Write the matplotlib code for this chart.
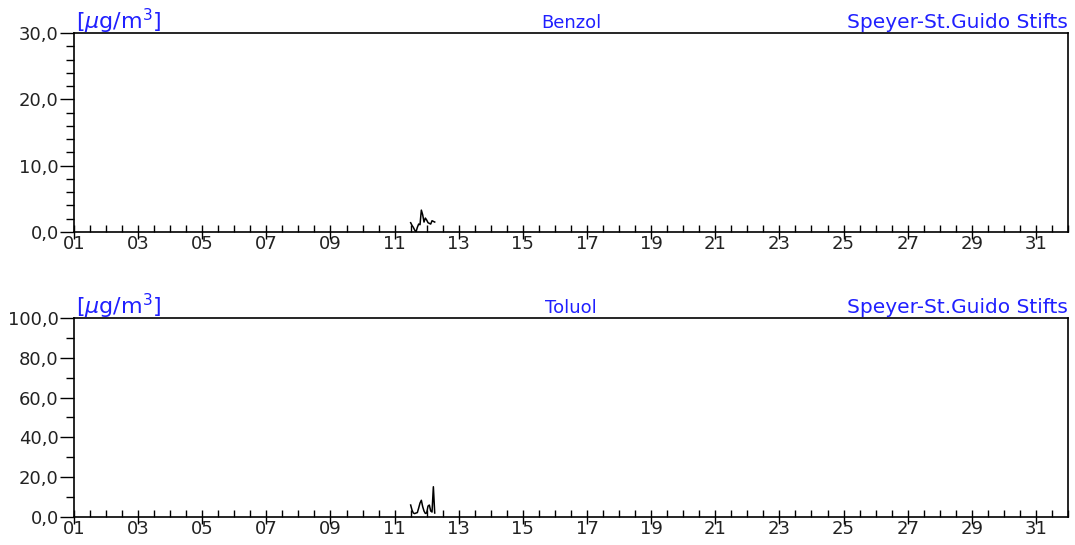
import numpy as np
import matplotlib.pyplot as plt
from matplotlib.ticker import MultipleLocator, FixedLocator, FuncFormatter

# hourly readings, starting on day 11 at 12:00
start_day = 11.5
benzol = [1.4, 1.0, 0.7, 0.3, 0.0, 0.7, 1.2, 1.1, 3.3, 2.6, 1.5, 2.1, 1.8, 1.4, 1.3, 1.2, 1.7, 1.6, 1.5]
toluol = [6.0, 3.5, 2.0, 1.7, 2.0, 2.2, 4.5, 7.0, 8.4, 5.2, 3.0, 1.8, 2.0, 5.5, 6.0, 3.0, 2.5, 15.2, 2.0]

station = "Speyer-St.Guido Stifts"
unit = "[$\\mu$g/m$^3$]"
panels = [("Benzol", benzol, 30, 10, 2), ("Toluol", toluol, 100, 20, 10)]
day_labels = list(range(1, 32, 2))

hours = start_day + np.arange(len(benzol)) / 24.0

fig = plt.figure(figsize=(10.75, 5.45), dpi=100)
blue = "#2020ff"
txt = "#222222"

def fmt(v, pos):
    return f"{v:.1f}".replace(".", ",")

for i, (name, vals, ymax, major, minor) in enumerate(panels):
    bottom = 0.5743 if i == 0 else 0.0514
    ax = fig.add_axes([0.0688, bottom, 0.9247, 0.3651])
    ax.plot(hours, vals, color="black", lw=1.1)
    ax.set_xlim(1, 32)
    ax.set_ylim(0, ymax)

    ax.yaxis.set_major_locator(MultipleLocator(major))
    ax.yaxis.set_minor_locator(MultipleLocator(minor))
    ax.yaxis.set_major_formatter(FuncFormatter(fmt))
    ax.tick_params(axis="y", which="major", length=10, width=1, pad=1,
                   labelsize=13, labelcolor=txt)
    ax.tick_params(axis="y", which="minor", length=6, width=1)

    ax.xaxis.set_major_locator(FixedLocator(day_labels))
    ax.xaxis.set_minor_locator(MultipleLocator(0.5))
    ax.set_xticklabels([f"{d:02d}" for d in day_labels])
    ax.tick_params(axis="x", which="major", direction="inout", length=10,
                   width=1, pad=-3, labelsize=13, labelcolor=txt)
    ax.tick_params(axis="x", which="minor", direction="in", length=5, width=1)

    for s in ax.spines.values():
        s.set_linewidth(1.2)

    ax.text(0.002, 0.985, unit, transform=ax.transAxes, color=blue,
            fontsize=16, ha="left", va="bottom")
    ax.text(0.5, 1.003, name, transform=ax.transAxes, color=blue,
            fontsize=13, ha="center", va="bottom")
    ax.text(1.0, 1.003, station, transform=ax.transAxes, color=blue,
            fontsize=14.5, ha="right", va="bottom")

fig.savefig("out.png", dpi=100)
